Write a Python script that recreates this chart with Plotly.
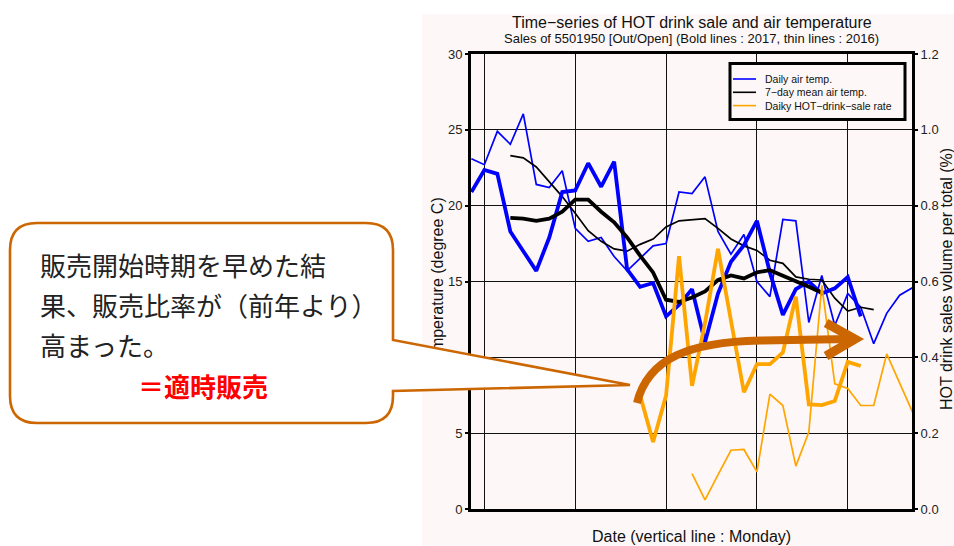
import plotly.graph_objects as go

# ---------------- data (day index, 0 = first Monday line) ----------------
monday_days = [0, 7, 14, 21, 28]
temp_ticks = [0, 5, 10, 15, 20, 25, 30]
rate_ticks = [0.0, 0.2, 0.4, 0.6, 0.8, 1.0, 1.2]

days_temp_2016 = list(range(-1, 34))
temp_2016 = [23.1, 22.7, 24.9, 24.05, 26.05, 21.4, 21.2, 22.3, 18.5, 17.65, 17.9, 16.65,
             15.7, 16.5, 17.35, 17.5, 20.9, 20.8, 21.9, 18.3, 16.8, 18.1, 15.0, 14.0,
             19.1, 19.0, 12.3, 15.4, 12.1, 14.2, 13.3, 10.9, 12.9, 14.1, 14.6]

days_temp_2017 = list(range(-1, 30))
temp_2017 = [20.9, 22.35, 22.1, 18.3, 17.0, 15.7, 17.9, 20.9, 21.0, 22.8, 21.25, 22.9,
             15.8, 14.65, 14.9, 12.7, 13.45, 14.5, 11.0, 14.2, 16.3, 17.4, 19.0, 15.6,
             12.8, 14.5, 15.0, 14.2, 14.55, 15.3, 12.7]

days_mean_2016 = list(range(2, 31))
mean_2016 = [23.3, 23.15, 22.55, 21.6, 20.6, 19.5, 18.35, 17.65, 17.15, 17.0, 17.45, 17.8,
             18.6, 19.0, 19.1, 19.15, 18.5, 17.8, 17.35, 17.05, 16.4, 16.2, 15.3, 15.15,
             15.1, 13.9, 13.05, 13.3, 13.15]

days_mean_2017 = list(range(2, 27))
mean_2017 = [19.2, 19.15, 19.0, 19.15, 19.6, 20.4, 20.4, 19.6, 18.9, 17.9, 16.7, 15.6,
             13.8, 13.65, 13.95, 14.35, 15.1, 15.4, 15.2, 15.6, 15.75, 15.4, 15.05, 14.65,
             14.25]

days_rate_2016 = list(range(16, 34))
rate_2016 = [0.093, 0.024, 0.09, 0.155, 0.157, 0.098, 0.303, 0.273, 0.113, 0.203, 0.59,
             0.33, 0.318, 0.273, 0.273, 0.409, 0.332, 0.255]

days_rate_2017 = list(range(12, 30))
rate_2017 = [0.30, 0.177, 0.299, 0.667, 0.325, 0.49, 0.686, 0.5, 0.308, 0.382, 0.382,
             0.413, 0.56, 0.276, 0.274, 0.285, 0.388, 0.377]

legend_names = ["Daily air temp.", "7\u2212day mean air temp.", "Daiky HOT\u2212drink\u2212sale rate"]
title_text = "Time\u2212series of HOT drink sale and air temperature"
subtitle_text = "Sales of 5501950 [Out/Open] (Bold lines : 2017, thin lines : 2016)"
xtitle_text = "Date (vertical line : Monday)"
ytitle_text = "Temperature (degree C)"
y2title_text = "HOT drink sales volume per total (%)"
callout_lines = ["販売開始時期を早めた結", "果、販売比率が（前年より）", "高まった。"]
callout_emph = "＝適時販売"

# ---------------- layout geometry ----------------
W, H = 954, 546
PL, PR, PT, PB = 471, 912, 54, 509
PINK = "#fdf8f7"
BROWN = "#cc6600"
FONT = "Liberation Sans, Arial, sans-serif"
CJK = "Noto Sans CJK JP"
BLUE, BLACK, ORANGE = "#0000ff", "#000000", "#ffa500"
THIN, THICK = 1.7, 3.8


def fx(px):
    return (px - PL) / (PR - PL)


def fy(py):
    return (PB - py) / (PB - PT)


def path(cmds):
    out = []
    for c in cmds:
        if isinstance(c, str):
            out.append(c)
        else:
            out.append("%.5f,%.5f" % (fx(c[0]), fy(c[1])))
    return " ".join(out)


fig = go.Figure()

fig.add_trace(go.Scatter(x=days_temp_2016, y=temp_2016, mode="lines", name=legend_names[0],
                         line=dict(color=BLUE, width=THIN)))
fig.add_trace(go.Scatter(x=days_mean_2016, y=mean_2016, mode="lines", name=legend_names[1],
                         line=dict(color=BLACK, width=THIN)))
fig.add_trace(go.Scatter(x=days_temp_2017, y=temp_2017, mode="lines", name=legend_names[0] + " 2017",
                         line=dict(color=BLUE, width=THICK)))
fig.add_trace(go.Scatter(x=days_mean_2017, y=mean_2017, mode="lines", name=legend_names[1] + " 2017",
                         line=dict(color=BLACK, width=THICK)))
fig.add_trace(go.Scatter(x=days_rate_2016, y=rate_2016, mode="lines", name=legend_names[2],
                         yaxis="y2", line=dict(color=ORANGE, width=THIN)))
fig.add_trace(go.Scatter(x=days_rate_2017, y=rate_2017, mode="lines", name=legend_names[2] + " 2017",
                         yaxis="y2", line=dict(color=ORANGE, width=THICK)))

shapes = []
# pink background of the chart image
shapes.append(dict(type="rect", xref="paper", yref="paper", layer="below",
                   x0=fx(422), x1=fx(960), y0=fy(552), y1=fy(14),
                   fillcolor=PINK, line=dict(width=0)))

# hand-built legend box (matches the compact original)
LX0, LY0, LX1, LY1 = 730, 63.5, 905, 119.5
shapes.append(dict(type="rect", xref="paper", yref="paper", layer="above",
                   x0=fx(LX0), x1=fx(LX1), y0=fy(LY1), y1=fy(LY0),
                   fillcolor=PINK, line=dict(color="black", width=3)))
legend_colors = [BLUE, BLACK, ORANGE]
legend_rows = [79, 92.3, 105.6]
for col, yy in zip(legend_colors, legend_rows):
    shapes.append(dict(type="line", xref="paper", yref="paper", layer="above",
                       x0=fx(733), x1=fx(756), y0=fy(yy), y1=fy(yy),
                       line=dict(color=col, width=1.6)))

# callout bubble (rounded box + tail)
bx0, by0, bx1, by1, r = 10, 223, 393, 423, 27
tip = (630, 385)
callout = path([
    "M", (bx0 + r, by0), "L", (bx1 - r, by0), "Q", (bx1, by0), (bx1, by0 + r),
    "L", (bx1, 340), "L", tip, "L", (bx1, 391),
    "L", (bx1, by1 - r), "Q", (bx1, by1), (bx1 - r, by1),
    "L", (bx0 + r, by1), "Q", (bx0, by1), (bx0, by1 - r),
    "L", (bx0, by0 + r), "Q", (bx0, by0), (bx0 + r, by0), "Z"])
shapes.append(dict(type="path", xref="paper", yref="paper", layer="above", path=callout,
                   fillcolor="white", line=dict(color=BROWN, width=2.6)))

# curved arrow
shaft = path(["M", (637, 403), "C", (648, 358), (690, 342), (760, 340.5), "L", (850, 339)])
shapes.append(dict(type="path", xref="paper", yref="paper", layer="above", path=shaft,
                   line=dict(color=BROWN, width=8)))
head = path(["M", (826, 323), "L", (855, 339), "L", (826, 356)])
shapes.append(dict(type="path", xref="paper", yref="paper", layer="above", path=head,
                   line=dict(color=BROWN, width=9)))

annotations = []
# index 0: left axis title (moved beneath the callout by the post script)
annotations.append(dict(text=ytitle_text, xref="paper", yref="paper", x=fx(437), y=fy(283),
                        textangle=-90, showarrow=False, xanchor="center", yanchor="middle",
                        font=dict(family=FONT, size=16, color="#111")))
annotations.append(dict(text=y2title_text, xref="paper", yref="paper", x=fx(946), y=fy(279),
                        textangle=-90, showarrow=False, xanchor="center", yanchor="middle",
                        font=dict(family=FONT, size=16, color="#111")))
annotations.append(dict(text=title_text, xref="paper", yref="paper", x=0.5, y=fy(22),
                        showarrow=False, xanchor="center", yanchor="middle",
                        font=dict(family=FONT, size=16, color="#111")))
annotations.append(dict(text=subtitle_text, xref="paper", yref="paper", x=0.5, y=fy(39),
                        showarrow=False, xanchor="center", yanchor="middle",
                        font=dict(family=FONT, size=13, color="#111")))
annotations.append(dict(text=xtitle_text, xref="paper", yref="paper", x=0.5, y=fy(536),
                        showarrow=False, xanchor="center", yanchor="middle",
                        font=dict(family=FONT, size=16, color="#111")))
for name, yy in zip(legend_names, legend_rows):
    annotations.append(dict(text=name, xref="paper", yref="paper", x=fx(763), y=fy(yy),
                            showarrow=False, xanchor="left", yanchor="middle",
                            font=dict(family=FONT, size=10.5, color="#111")))
for i, line in enumerate(callout_lines):
    annotations.append(dict(text=line, xref="paper", yref="paper", x=fx(38), y=fy(264 + 40 * i),
                            showarrow=False, xanchor="left", yanchor="middle",
                            font=dict(family=CJK, size=26, color="#222")))
annotations.append(dict(text="<b>" + callout_emph + "</b>", xref="paper", yref="paper",
                        x=fx(203), y=fy(385), showarrow=False, xanchor="center", yanchor="middle",
                        font=dict(family=CJK, size=26, color="#ff0000")))

axis_common = dict(showline=True, linecolor="black", linewidth=3, zeroline=False)

fig.update_layout(
    width=W, height=H, autosize=False,
    margin=dict(l=PL, r=W - PR, t=PT, b=H - PB, pad=0),
    paper_bgcolor="white", plot_bgcolor=PINK,
    font=dict(family=FONT, color="#222"),
    showlegend=False,
    xaxis=dict(range=[-1.03, 32.95], tickvals=monday_days, showticklabels=False,
               ticks="", showgrid=True, gridcolor="#111", gridwidth=1.3, mirror=True,
               automargin=False, **axis_common),
    yaxis=dict(range=[0, 30], tickvals=temp_ticks, ticktext=[str(v) for v in temp_ticks],
               ticks="outside", ticklen=3, tickwidth=1.5, tickcolor="black",
               showgrid=True, gridcolor="#111", gridwidth=1.3, mirror=True,
               tickfont=dict(family=FONT, size=13, color="#222"), automargin=False,
               **axis_common),
    yaxis2=dict(range=[0, 1.2], tickvals=rate_ticks, tickformat=".1f", overlaying="y",
                side="right", ticks="outside", ticklen=3, tickwidth=1.5, tickcolor="black",
                showgrid=False, tickfont=dict(family=FONT, size=13, color="#222"),
                automargin=False, **axis_common),
    shapes=shapes,
    annotations=annotations,
    hovermode=False,
)

js = """
var gd = document.getElementById('{plot_id}');
var a = gd.querySelector('.annotation[data-index="0"]');
var la = gd.querySelector('.layer-above');
if (a && la) { la.parentNode.insertBefore(a, la); }
"""

fig.write_html("out.html", post_script=js, config={"displayModeBar": False})
